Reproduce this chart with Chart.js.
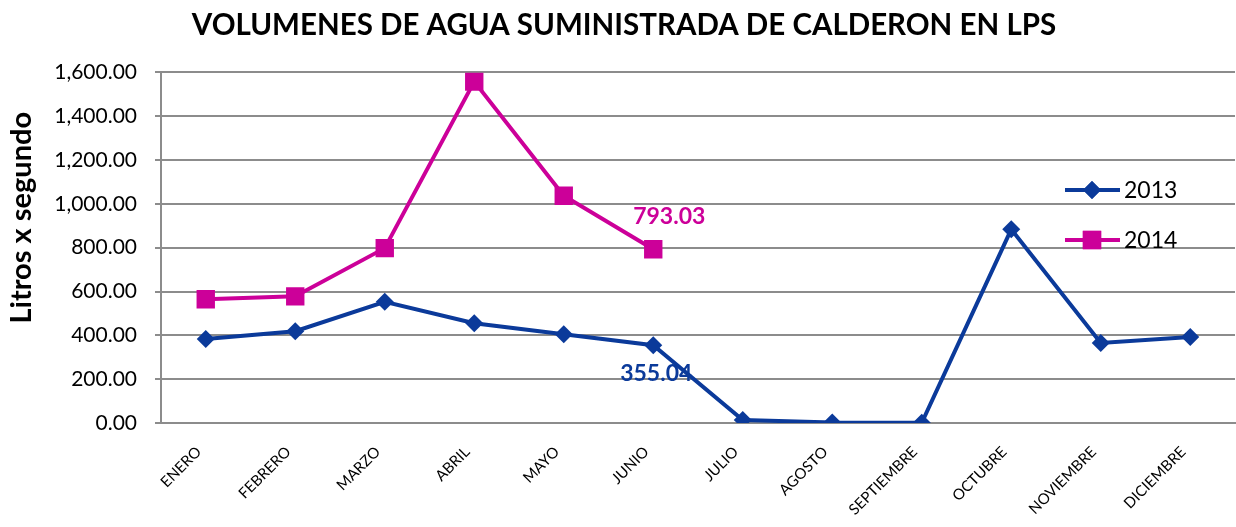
<!DOCTYPE html>
<html>
<head>
<meta charset="utf-8">
<script src="https://cdn.jsdelivr.net/npm/chart.js@4.4.1/dist/chart.umd.min.js"></script>
<style>
  html, body { margin: 0; padding: 0; background: #fff; }
  #wrap { width: 1236px; height: 527px; }
</style>
</head>
<body>
<div id="wrap"><canvas id="chartAgua"></canvas></div>
<script>
const meses = ['ENERO', 'FEBRERO', 'MARZO', 'ABRIL', 'MAYO', 'JUNIO', 'JULIO', 'AGOSTO', 'SEPTIEMBRE', 'OCTUBRE', 'NOVIEMBRE', 'DICIEMBRE'];
const datos2013 = [383, 419, 553, 455, 405, 355.04, 14, 2, 1, 884, 365, 392];
const datos2014 = [565, 578, 798, 1558, 1037, 793.03];
const yTicks = [0, 200, 400, 600, 800, 1000, 1200, 1400, 1600];

const azul = '#0b3a9a';
const magenta = '#cc0099';
const gris = '#8c8c8c';

// el area de trazado llega hasta el borde derecho
const ajuste = {
    id: 'ajuste',
    afterLayout(chart) {
        const r = chart.width - 1;
        chart.chartArea.right = r;
        chart.chartArea.width = r - chart.chartArea.left;
        const x = chart.scales.x;
        x.right = r;
        x.width = r - x.left;
        x.configure();
    }
};

// etiquetas de valor en JUNIO, titulo del eje y leyenda dentro del area
const extras = {
    id: 'extras',
    afterDatasetsDraw(chart) {
        const ctx = chart.ctx;
        const x = chart.scales.x;
        const y = chart.scales.y;
        ctx.save();
        ctx.font = 'bold 23px Lato';
        ctx.textAlign = 'center';
        ctx.textBaseline = 'middle';
        ctx.fillStyle = magenta;
        ctx.fillText(datos2014[5].toFixed(2), x.getPixelForValue(5) + 16, y.getPixelForValue(datos2014[5]) - 33);
        ctx.fillStyle = azul;
        ctx.fillText(datos2013[5].toFixed(2), x.getPixelForValue(5) + 3, y.getPixelForValue(datos2013[5]) + 28);

        ctx.save();
        ctx.translate(22, (chart.chartArea.top + chart.chartArea.bottom) / 2 - 30);
        ctx.rotate(-Math.PI / 2);
        ctx.fillStyle = '#000';
        ctx.font = 'bold 29px Lato';
        ctx.fillText('Litros x segundo', 0, 0);
        ctx.restore();

        const lx = chart.chartArea.right - 170;
        const items = [
            { label: '2013', color: azul, style: 'rectRot', r: 9, yy: 190 },
            { label: '2014', color: magenta, style: 'rect', r: 13, yy: 240 }
        ];
        items.forEach(it => {
            ctx.strokeStyle = it.color;
            ctx.lineWidth = 4;
            ctx.beginPath();
            ctx.moveTo(lx, it.yy);
            ctx.lineTo(lx + 55, it.yy);
            ctx.stroke();
            ctx.fillStyle = it.color;
            Chart.helpers.drawPoint(ctx, { pointStyle: it.style, radius: it.r, borderWidth: 0 }, lx + 27, it.yy);
            ctx.fill();
            ctx.fillStyle = '#000';
            ctx.font = '23px Lato';
            ctx.textAlign = 'left';
            ctx.fillText(it.label, lx + 59, it.yy + 1);
        });
        ctx.restore();
    }
};

new Chart(document.getElementById('chartAgua').getContext('2d'), {
    type: 'line',
    data: {
        labels: meses,
        datasets: [{
            label: '2013',
            data: datos2013,
            borderColor: azul,
            backgroundColor: azul,
            borderWidth: 4,
            pointStyle: 'rectRot',
            pointRadius: 9,
            pointHoverRadius: 9,
            pointBorderWidth: 0,
            tension: 0
        }, {
            label: '2014',
            data: datos2014,
            borderColor: magenta,
            backgroundColor: magenta,
            borderWidth: 4,
            pointStyle: 'rect',
            pointRadius: 13,
            pointHoverRadius: 13,
            pointBorderWidth: 0,
            tension: 0
        }]
    },
    options: {
        responsive: true,
        maintainAspectRatio: false,
        animation: false,
        layout: { padding: { right: -12, left: 0 } },
        plugins: {
            legend: { display: false },
            tooltip: { enabled: false },
            title: {
                display: true,
                text: 'VOLUMENES DE AGUA SUMINISTRADA DE CALDERON EN LPS',
                color: '#000',
                font: { family: 'Lato', size: 29.5, weight: 'bold' },
                padding: { top: 8, bottom: 29 }
            }
        },
        scales: {
            y: {
                min: 0,
                max: 1600,
                afterBuildTicks: s => { s.ticks = yTicks.map(v => ({ value: v })); },
                afterFit: s => { s.width = 161; },
                ticks: {
                    color: '#000',
                    font: { family: 'Lato', size: 21 },
                    padding: 18,
                    callback: v => v.toLocaleString('en-US', { minimumFractionDigits: 2, maximumFractionDigits: 2 })
                },
                grid: { color: gris, lineWidth: 2, tickLength: 6, tickColor: gris },
                border: { color: gris, width: 2 }
            },
            x: {
                offset: true,
                afterFit: s => { s.height = 104; },
                ticks: {
                    color: '#000',
                    font: { family: 'Lato', size: 15 },
                    minRotation: 45,
                    maxRotation: 45,
                    padding: 12,
                    labelOffset: -7,
                    autoSkip: false
                },
                grid: { display: false },
                border: { color: gris, width: 2 }
            }
        }
    },
    plugins: [ajuste, extras]
});
</script>
</body>
</html>
